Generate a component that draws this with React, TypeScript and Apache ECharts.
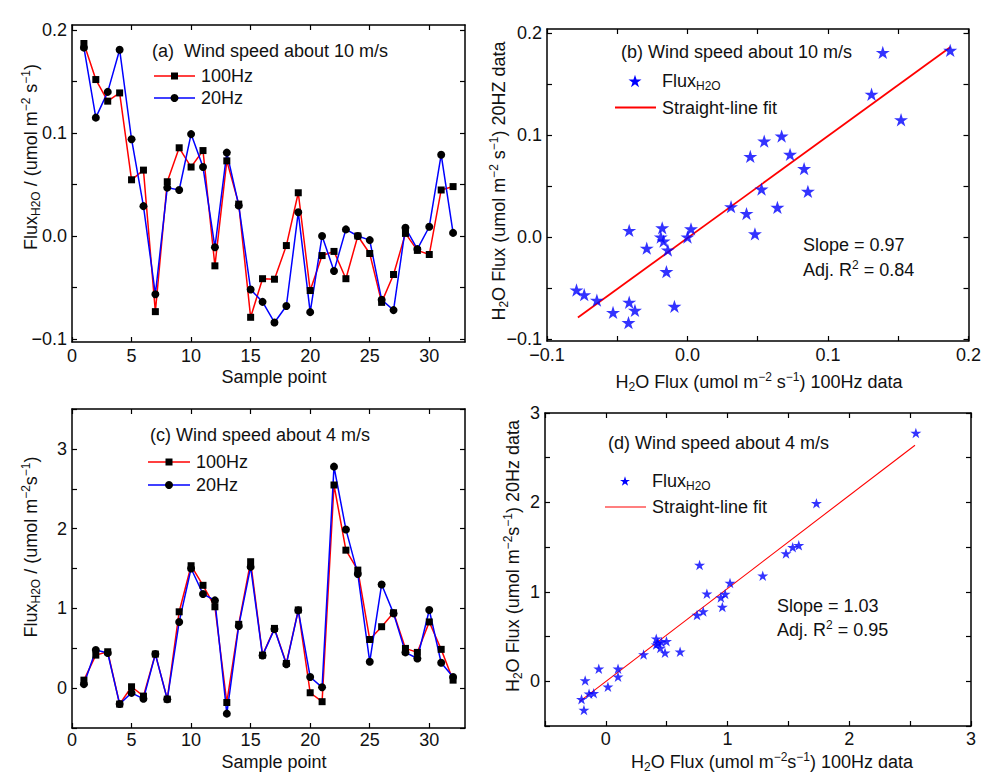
import React, { useEffect, useRef } from 'react';
import * as echarts from 'echarts';

const FONT = '"Liberation Sans", Arial, Helvetica, sans-serif';

// ---------- data ----------
const samplePoints = [1, 2, 3, 4, 5, 6, 7, 8, 9, 10, 11, 12, 13, 14, 15, 16, 17, 18, 19, 20, 21, 22, 23, 24, 25, 26, 27, 28, 29, 30, 31, 32];

// wind speed about 10 m/s
const flux100HzA = [0.187, 0.152, 0.131, 0.139, 0.0546, 0.064, -0.0735, 0.0527, 0.0857, 0.067, 0.083, -0.029, 0.073, 0.031, -0.079, -0.0415, -0.042, -0.0093, 0.042, -0.053, -0.019, -0.015, -0.0415, 0.0, -0.017, -0.0645, -0.0374, 0.0025, -0.014, -0.018, 0.0447, 0.048];
const flux20HzA = [0.183, 0.115, 0.14, 0.181, 0.094, 0.029, -0.0566, 0.047, 0.0447, 0.099, 0.067, -0.011, 0.081, 0.0297, -0.052, -0.064, -0.084, -0.068, 0.023, -0.074, 0.0, -0.034, 0.0064, 0.0, -0.004, -0.062, -0.072, 0.008, -0.0128, 0.009, 0.079, 0.003];

// wind speed about 4 m/s
const flux100HzC = [0.1, 0.414, 0.456, -0.2, 0.017, -0.1, 0.427, -0.138, 0.957, 1.535, 1.289, 1.02, -0.18, 0.8, 1.585, 0.414, 0.749, 0.31, 0.98, -0.058, -0.17, 2.547, 1.73, 1.48, 0.61, 0.77, 0.945, 0.498, 0.448, 0.83, 0.486, 0.1];
const flux20HzC = [0.05, 0.477, 0.44, -0.2, -0.06, -0.134, 0.427, -0.14, 0.83, 1.5, 1.18, 1.1, -0.32, 0.78, 1.52, 0.41, 0.74, 0.3, 0.975, 0.14, 0.01, 2.777, 1.99, 1.43, 0.33, 1.3, 0.937, 0.448, 0.372, 0.98, 0.318, 0.14];

// straight-line fits (end points)
const fitLineB = [[-0.078, -0.079], [0.187, 0.186]];
const fitLineD = [[-0.214, -0.225], [2.54, 2.64]];

// ticks & labels
const sampleTicks = [0, 5, 10, 15, 20, 25, 30];
const smallFluxTicks = [-0.1, -0.05, 0, 0.05, 0.1, 0.15, 0.2];
const smallFluxLabels = [-0.1, 0, 0.1, 0.2];
const bigFluxTicksC = [-0.5, 0, 0.5, 1, 1.5, 2, 2.5, 3, 3.5];
const bigFluxTicksD = [-0.5, 0, 0.5, 1, 1.5, 2, 2.5, 3];
const bigFluxLabels = [0, 1, 2, 3];

const STAR_PATH =
  'path://M50,0 L61.23,34.55 L97.55,34.55 L68.16,55.9 L79.39,90.45 L50,69.1 L20.61,90.45 L31.84,55.9 L2.45,34.55 L38.77,34.55 Z';
const STAR_PTS = [[50, 0], [61.23, 34.55], [97.55, 34.55], [68.16, 55.9], [79.39, 90.45], [50, 69.1], [20.61, 90.45], [31.84, 55.9], [2.45, 34.55], [38.77, 34.55]];

const RED = '#ff0000';
const BLUE = '#0000ff';
const INK = '#111111';

function pairs(xs: number[], ys: number[]) {
  return xs.map((x, i) => [x, ys[i]]);
}

const fmt1 = (v: number) => (Math.abs(v) < 1e-9 ? '0.0' : v.toFixed(1).replace('-', '\u2212'));
const fmt0 = (v: number) => String(Math.round(v));

function axisPair(kind: 'x' | 'y', grid: number, min: number, max: number, ticks: number[], labels: number[], fmt: (v: number) => string, margin = 5) {
  const common: any = {
    type: 'value',
    gridIndex: grid,
    min,
    max,
    splitLine: { show: false },
    axisLine: { show: true, onZero: false, lineStyle: { color: '#000', width: 1.5 } },
    axisTick: { show: true, inside: true, length: 5, customValues: ticks, lineStyle: { color: '#000', width: 1.2 } },
  };
  return [
    {
      ...common,
      position: kind === 'x' ? 'bottom' : 'left',
      axisLabel: { show: true, customValues: labels, formatter: fmt, color: INK, fontSize: 18, fontFamily: FONT, margin },
    },
    { ...common, position: kind === 'x' ? 'top' : 'right', axisLabel: { show: false } },
  ];
}

const rich = {
  sub: { fontSize: 12, lineHeight: 12, verticalAlign: 'bottom', fontFamily: FONT, fill: INK },
  sup: { fontSize: 12, lineHeight: 12, verticalAlign: 'top', fontFamily: FONT, fill: INK },
};

function txt(x: number, y: number, text: string, align = 'left', rotation = 0) {
  return {
    type: 'text',
    x,
    y,
    rotation,
    z: 100,
    style: {
      text,
      fill: INK,
      fontSize: 18,
      fontFamily: FONT,
      lineHeight: 22,
      align,
      verticalAlign: 'middle',
      textAlign: align,
      textVerticalAlign: 'middle',
      rich,
    },
  };
}

function hline(x1: number, x2: number, y: number, color: string, width: number) {
  return { type: 'line', z: 100, shape: { x1, y1: y, x2, y2: y }, style: { stroke: color, lineWidth: width } };
}

function star(cx: number, cy: number, w: number, h: number) {
  const pts = STAR_PTS.map(([px, py]) => [cx + ((px - 50) / 95.1) * w, cy + ((py - 45.2) / 90.45) * h]);
  return { type: 'polygon', z: 100, shape: { points: pts }, style: { fill: BLUE } };
}

function lineLegend(x1: number, x2: number, y: number, color: string, marker: 'rect' | 'circle', label: string) {
  const cx = (x1 + x2) / 2;
  const m =
    marker === 'rect'
      ? { type: 'rect', z: 101, shape: { x: cx - 3.5, y: y - 3.5, width: 7, height: 7 }, style: { fill: '#000' } }
      : { type: 'circle', z: 101, shape: { cx, cy: y, r: 4 }, style: { fill: '#000' } };
  return [hline(x1, x2, y, color, 1.5), m, txt(x2 + 6, y, label)];
}

export default function App() {
  const ref = useRef<HTMLDivElement>(null);

  useEffect(() => {
    if (!ref.current) return;
    const chart = echarts.init(ref.current, undefined, { renderer: 'svg' });

    const xAxis = [
      ...axisPair('x', 0, 0, 33, sampleTicks, sampleTicks, fmt0, 5),
      ...axisPair('x', 1, -0.1, 0.2, smallFluxTicks, smallFluxLabels, fmt1, 5),
      ...axisPair('x', 2, 0, 33, sampleTicks, sampleTicks, fmt0, 3),
      ...axisPair('x', 3, -0.5, 3, bigFluxTicksD, bigFluxLabels, fmt0, 4),
    ];
    const yAxis = [
      ...axisPair('y', 0, -0.103, 0.205, smallFluxTicks, smallFluxLabels, fmt1),
      ...axisPair('y', 1, -0.102, 0.204, smallFluxTicks, smallFluxLabels, fmt1),
      ...axisPair('y', 2, -0.5, 3.5, bigFluxTicksC, bigFluxLabels, fmt0),
      ...axisPair('y', 3, -0.5, 3, bigFluxTicksD, bigFluxLabels, fmt0),
    ];

    const lineSeries = (name: string, xi: number, data: number[][], color: string, symbol: string, size: number) => ({
      type: 'line',
      name,
      xAxisIndex: xi,
      yAxisIndex: xi,
      data,
      symbol,
      symbolSize: size,
      showSymbol: true,
      lineStyle: { color, width: 1.5 },
      itemStyle: { color: '#000' },
    });

    const series: any[] = [
      lineSeries('100Hz', 0, pairs(samplePoints, flux100HzA), RED, 'rect', 7),
      lineSeries('20Hz', 0, pairs(samplePoints, flux20HzA), BLUE, 'circle', 8),
      {
        type: 'scatter',
        name: 'FluxB',
        xAxisIndex: 2,
        yAxisIndex: 2,
        data: pairs(flux100HzA, flux20HzA),
        symbol: STAR_PATH,
        symbolSize: [14, 13.3],
        itemStyle: { color: BLUE },
      },
      {
        type: 'line',
        name: 'fitB',
        xAxisIndex: 2,
        yAxisIndex: 2,
        data: fitLineB,
        showSymbol: false,
        symbol: 'none',
        lineStyle: { color: RED, width: 1.8 },
        z: 1,
      },
      lineSeries('100Hz c', 4, pairs(samplePoints, flux100HzC), RED, 'rect', 7),
      lineSeries('20Hz c', 4, pairs(samplePoints, flux20HzC), BLUE, 'circle', 8),
      {
        type: 'scatter',
        name: 'FluxD',
        xAxisIndex: 6,
        yAxisIndex: 6,
        data: pairs(flux100HzC, flux20HzC),
        symbol: STAR_PATH,
        symbolSize: [11, 10.5],
        itemStyle: { color: BLUE },
      },
      {
        type: 'line',
        name: 'fitD',
        xAxisIndex: 6,
        yAxisIndex: 6,
        data: fitLineD,
        showSymbol: false,
        symbol: 'none',
        lineStyle: { color: RED, width: 1.1 },
        z: 1,
      },
    ];

    const graphic: any[] = [
      // panel a
      txt(152, 51, '(a)  Wind speed about 10 m/s'),
      ...lineLegend(154, 195, 76, RED, 'rect', '100Hz'),
      ...lineLegend(154, 195, 98, BLUE, 'circle', '20Hz'),
      txt(274, 377, 'Sample point', 'center'),
      txt(31, 157, 'Flux{sub|H2O} / (umol m{sup|\u22122} s{sup|\u22121})', 'center', Math.PI / 2),
      // panel b
      txt(621, 52, '(b) Wind speed about 10 m/s'),
      star(635, 81, 13, 12.4),
      txt(662, 81, 'Flux{sub|H2O}'),
      hline(615, 656, 107.5, RED, 2),
      txt(662, 108, 'Straight-line fit'),
      txt(803, 245, 'Slope = 0.97'),
      txt(803, 270, 'Adj. R{sup|2} = 0.84'),
      txt(759, 382, 'H{sub|2}O Flux (umol m{sup|\u22122} s{sup|\u22121}) 100Hz data', 'center'),
      txt(499, 181, 'H{sub|2}O Flux (umol m{sup|\u22122} s{sup|\u22121}) 20HZ data', 'center', Math.PI / 2),
      // panel c
      txt(150, 435, '(c) Wind speed about 4 m/s'),
      ...lineLegend(148, 190, 462, RED, 'rect', '100Hz'),
      ...lineLegend(148, 190, 485, BLUE, 'circle', '20Hz'),
      txt(274, 762, 'Sample point', 'center'),
      txt(31, 547, 'Flux{sub|H2O} / (umol m{sup|\u22122}s{sup|\u22121})', 'center', Math.PI / 2),
      // panel d
      txt(608, 443, '(d) Wind speed about 4 m/s'),
      star(625, 481, 10, 9.5),
      txt(652, 481, 'Flux{sub|H2O}'),
      hline(605, 646, 507, RED, 1.2),
      txt(652, 507, 'Straight-line fit'),
      txt(777, 606, 'Slope = 1.03'),
      txt(777, 630, 'Adj. R{sup|2} = 0.95'),
      txt(772, 762, 'H{sub|2}O Flux (umol m{sup|\u22122}s{sup|\u22121}) 100Hz data', 'center'),
      txt(513, 556, 'H{sub|2}O Flux (umol m{sup|\u22122}s{sup|\u22121}) 20Hz data', 'center', Math.PI / 2),
    ];

    chart.setOption({
      animation: false,
      backgroundColor: '#ffffff',
      textStyle: { fontFamily: FONT },
      grid: [
        { left: 72, top: 25, width: 393, height: 317 },
        { left: 547, top: 29, width: 427, height: 312 },
        { left: 72, top: 409, width: 393, height: 319 },
        { left: 545, top: 413, width: 426, height: 313 },
      ],
      xAxis,
      yAxis,
      series,
      graphic,
    });

    return () => chart.dispose();
  }, []);

  return <div ref={ref} style={{ position: 'absolute', left: 0, top: 0, width: 984, height: 773 }} />;
}
